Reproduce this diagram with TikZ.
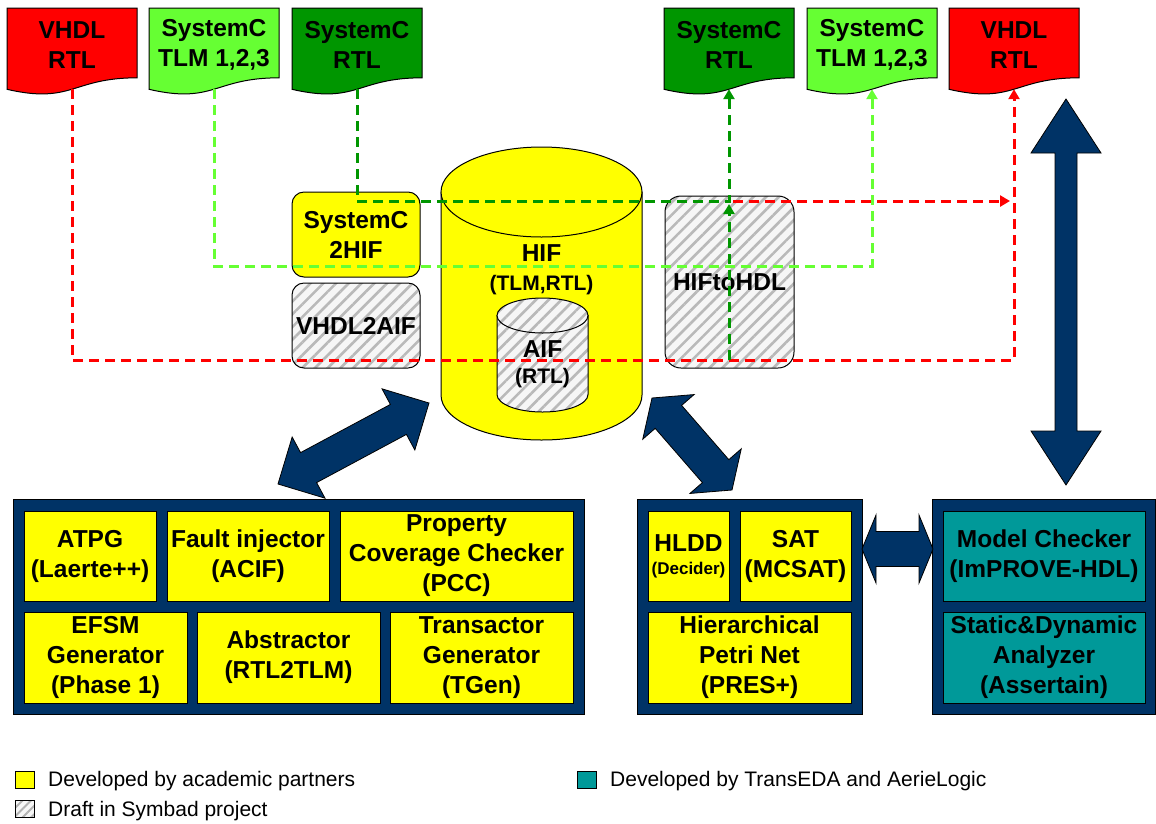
\documentclass[tikz,border=0pt]{standalone}
\usepackage{fontspec}
\setmainfont{Liberation Sans}
\usetikzlibrary{arrows.meta,patterns.meta,calc}

\definecolor{docred}{RGB}{255,0,0}
\definecolor{doclime}{RGB}{102,255,51}
\definecolor{docgreen}{RGB}{0,150,0}
\definecolor{hifyellow}{RGB}{255,255,0}
\definecolor{navyblue}{RGB}{0,51,102}
\definecolor{tealbox}{RGB}{0,153,153}

\newcommand\bigfont{\bfseries\fontsize{24.5}{30}\selectfont}
\newcommand\subfont{\bfseries\fontsize{21}{24}\selectfont}
\newcommand\tinyfont{\bfseries\fontsize{17}{20}\selectfont}
\newcommand\keyfont{\fontsize{21}{24}\selectfont}

\tikzset{
  docshape/.style={draw=black, line width=1pt},
  roundbox/.style={draw=black, line width=1pt, rounded corners=12pt},
  hatched/.style={preaction={fill=gray!7},
    pattern={Lines[angle=45,distance=9pt,line width=2.6pt]}, pattern color=gray!55},
  drumline/.style={draw=black, line width=1pt},
  linkbase/.style={line width=3pt, dash pattern=on 10pt off 6pt},
  tipped/.style={-{Triangle[length=10pt,width=11pt]}},
  redlink/.style={linkbase, draw=docred},
  greenlink/.style={linkbase, draw=docgreen},
  limelink/.style={linkbase, draw=doclime},
  bigarrow/.style={draw=black, fill=navyblue, line width=0.8pt, line join=miter},
  group/.style={draw=black, fill=navyblue, line width=0.8pt},
  cell/.style={draw=black, fill=hifyellow, line width=0.8pt},
  tcell/.style={draw=black, fill=tealbox, line width=0.8pt},
  keysq/.style={draw=black, line width=0.8pt, minimum width=19pt, minimum height=17pt},
  keyhatch/.style={preaction={fill=gray!7},
    pattern={Lines[angle=45,distance=6pt,line width=2pt]}, pattern color=gray!60},
  keytext/.style={font=\keyfont, anchor=west},
}

% document sheet with a wavy lower edge: name, left x, fill, text
\newcommand\docsheet[4]{%
  \draw[docshape, fill=#3] (#2,8) -- ({#2+130},8) -- ({#2+130},77.8)
    .. controls ({#2+65},77.8) and ({#2+65},104.4) .. (#2,89.3) -- cycle;
  \node (#1) at ({#2+65},45) {#4};
  \coordinate (#1-foot) at ({#2+65},89.2);
}

% upright drum: name, centre x, top y, bottom y, x radius, y radius, fill style
\newcommand\drum[7]{%
  \filldraw[drumline,#7] ({#2-#5},#3) -- ({#2-#5},#4)
    .. controls ({#2-#5},{#4+0.5523*#6}) and ({#2-0.5523*#5},{#4+#6}) .. (#2,{#4+#6})
    .. controls ({#2+0.5523*#5},{#4+#6}) and ({#2+#5},{#4+0.5523*#6}) .. ({#2+#5},#4)
    -- ({#2+#5},#3) -- cycle;
  \filldraw[drumline,#7] (#2,#3) ellipse [x radius=#5, y radius=#6];
  \coordinate (#1) at (#2,{(#3+#4)/2});
}

% thick double-headed block arrow between two named points:
% start, end, shaft half-width, head half-width, head length
\newcommand\fatarrow[5]{%
  \filldraw[bigarrow] let \p1=(#1), \p2=(#2), \n1={atan2(\y2-\y1,\x2-\x1)} in
    (\p1) -- ($(\p1)+(\n1:#5)+({\n1+90}:#4)$) -- ($(\p1)+(\n1:#5)+({\n1+90}:#3)$)
    -- ($(\p2)+({\n1+180}:#5)+({\n1+90}:#3)$) -- ($(\p2)+({\n1+180}:#5)+({\n1+90}:#4)$)
    -- (\p2)
    -- ($(\p2)+({\n1+180}:#5)+({\n1-90}:#4)$) -- ($(\p2)+({\n1+180}:#5)+({\n1-90}:#3)$)
    -- ($(\p1)+(\n1:#5)+({\n1-90}:#3)$) -- ($(\p1)+(\n1:#5)+({\n1-90}:#4)$) -- cycle;
}

\begin{document}
\begin{tikzpicture}[x=1pt, y=-1pt,
  every node/.style={inner sep=0pt, align=center, font=\bigfont}]
\useasboundingbox (0,0) rectangle (1156,823);
\fill[white] (0,0) rectangle (1156,823);

% source and target descriptions
\docsheet{vhdlL}{7}{docred}{VHDL\\RTL}
\docsheet{tlmL}{149}{doclime}{SystemC\\TLM 1,2,3}
\docsheet{scL}{292}{docgreen}{SystemC\\RTL}
\docsheet{scR}{664}{docgreen}{SystemC\\RTL}
\docsheet{tlmR}{807}{doclime}{SystemC\\TLM 1,2,3}
\docsheet{vhdlR}{949}{docred}{VHDL\\RTL}

% front-end and back-end tools
\node[roundbox, fill=hifyellow, minimum width=128pt, minimum height=85pt] (sc2hif) at (356,234.5) {SystemC\\2HIF};
\node[roundbox, hatched, minimum width=128pt, minimum height=85pt] (vhdl2aif) at (356,325.5) {VHDL2AIF};
\node[roundbox, hatched, rounded corners=16pt, minimum width=129pt, minimum height=172pt] (hif2hdl) at (729.5,282) {HIFtoHDL};

% HIF repository with the AIF subset inside
\drum{hifdrum}{541.5}{192}{395}{100.5}{45}{fill=hifyellow}
\node (hif) at (541.5,253) {HIF};
\node[font=\subfont] (hifsub) at (541.5,285) {(TLM,RTL)};
\drum{aifdrum}{542.5}{315.5}{394.5}{45.5}{17.5}{hatched}
\node (aif) at (542.5,349) {AIF};
\node[font=\subfont] (aifsub) at (542.5,378) {(RTL)};

% translation flows
\coordinate (redrun) at (1014,360);
\coordinate (greenrun) at (729,201);
\coordinate (limerun) at (872,266);
\coordinate (hdlgreen) at (729,360);
\coordinate (hdlgreenup) at (729,204);
\coordinate (hdlred) at (733,201);
\coordinate (redin) at (1010,201);

\draw[redlink, tipped] (vhdlL-foot) |- (redrun) -- (vhdlR-foot);
\draw[limelink, tipped] (tlmL-foot) |- (limerun) -- (tlmR-foot);
\draw[greenlink, tipped] (scL-foot) |- (greenrun) -- (scR-foot);
\draw[greenlink, tipped] (hdlgreen) -- (hdlgreenup);
\draw[redlink, tipped] (hdlred) -- (redin);

% verification tool groups
\node[group, minimum width=571pt, minimum height=215pt] (grpL) at (298.5,606.5) {};
\node[cell, minimum width=132pt, minimum height=90pt] (atpg) at (90,556) {ATPG\\(Laerte++)};
\node[cell, minimum width=162pt, minimum height=90pt] (fault) at (248,556) {Fault injector\\(ACIF)};
\node[cell, minimum width=233pt, minimum height=90pt] (pcc) at (456.5,556) {Property\\Coverage Checker\\(PCC)};
\node[cell, minimum width=163pt, minimum height=91pt] (efsm) at (105.5,657.5) {EFSM\\Generator\\(Phase 1)};
\node[cell, minimum width=183pt, minimum height=91pt] (abstr) at (288.5,657.5) {Abstractor\\(RTL2TLM)};
\node[cell, minimum width=183pt, minimum height=91pt] (tgen) at (481.5,657.5) {Transactor\\Generator\\(TGen)};

\node[group, minimum width=225pt, minimum height=215pt] (grpM) at (749.5,606.5) {};
\node[cell, minimum width=81pt, minimum height=90pt] (hldd) at (688.5,556) {HLDD\\[-7pt]{\tinyfont(Decider)}};
\node[cell, minimum width=111pt, minimum height=90pt] (sat) at (795.5,556) {SAT\\(MCSAT)};
\node[cell, minimum width=203pt, minimum height=91pt] (petri) at (749.5,657.5) {Hierarchical\\Petri Net\\(PRES+)};

\node[group, minimum width=223pt, minimum height=215pt] (grpR) at (1043.5,606.5) {};
\node[tcell, minimum width=202pt, minimum height=90pt] (mc) at (1044,556) {Model Checker\\(ImPROVE-HDL)};
\node[tcell, minimum width=202pt, minimum height=91pt] (sda) at (1044,657.5) {Static\&Dynamic\\Analyzer\\(Assertain)};

% data exchange between the groups and the repository
\coordinate (a1s) at (278,484);  \coordinate (a1e) at (429,403);
\coordinate (a2s) at (652,398);  \coordinate (a2e) at (732,490);
\coordinate (a3s) at (1066,99);  \coordinate (a3e) at (1066,485);
\coordinate (a4s) at (862,549);  \coordinate (a4e) at (933,549);
\fatarrow{a1s}{a1e}{17pt}{34.7pt}{34.7pt}
\fatarrow{a2s}{a2e}{17.5pt}{34pt}{25pt}
\fatarrow{a3s}{a3e}{11pt}{35pt}{54pt}
\fatarrow{a4s}{a4e}{17.5pt}{34pt}{14pt}

% key
\node[keysq, fill=hifyellow] (keyY) at (25,779.5) {};
\node[keytext] (keyYt) at (48,781) {Developed by academic partners};
\node[keysq, keyhatch] (keyH) at (25,809) {};
\node[keytext] (keyHt) at (48,811) {Draft in Symbad project};
\node[keysq, fill=tealbox] (keyT) at (587,779.5) {};
\node[keytext] (keyTt) at (610,781) {Developed by TransEDA and AerieLogic};
\end{tikzpicture}
\end{document}
